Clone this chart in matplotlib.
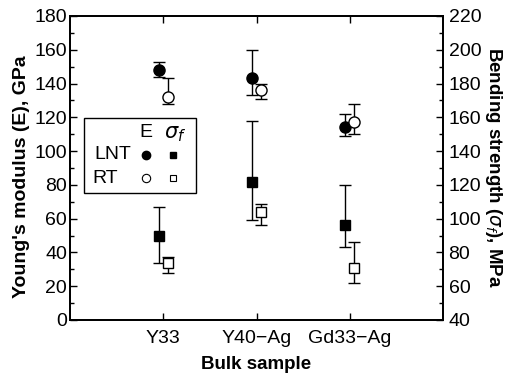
import numpy as np
import matplotlib.pyplot as plt
from matplotlib.patches import Rectangle
from matplotlib.ticker import MultipleLocator

plt.rcParams['font.family'] = ['Liberation Sans', 'DejaVu Sans']

# samples
samples = ['Y33', 'Y40\u2212Ag', 'Gd33\u2212Ag']

# Young's modulus (GPa)
E_lnt = [148, 143, 114]
E_lnt_hi = [152.5, 160, 122]
E_lnt_lo = [144, 133, 109]
E_rt = [132, 136, 117]
E_rt_hi = [143, 139.5, 128]
E_rt_lo = [128, 131, 110]

# bending strength (MPa)
s_lnt = [90, 122, 96]
s_lnt_hi = [107, 158, 120]
s_lnt_lo = [74, 99, 83]
s_rt = [74, 104, 71]
s_rt_hi = [77.5, 108.5, 86]
s_rt_lo = [68, 96, 62]

x = np.arange(1, len(samples) + 1)
dx = 0.05

fig = plt.figure(figsize=(5.07, 3.78), dpi=100)
ax = fig.add_axes([70/507, 1 - 320/378, 373/507, 304/378])
ax2 = ax.twinx()

def err(v, hi, lo):
    v = np.array(v); hi = np.array(hi); lo = np.array(lo)
    return np.vstack([v - lo, hi - v])

kw = dict(ecolor='k', elinewidth=1, capsize=4.2, capthick=1, ls='none')
ax.errorbar(x - dx, E_lnt, yerr=err(E_lnt, E_lnt_hi, E_lnt_lo), fmt='o',
            mfc='k', mec='k', ms=8, **kw)
ax.errorbar(x + dx, E_rt, yerr=err(E_rt, E_rt_hi, E_rt_lo), fmt='o',
            mfc='white', mec='k', mew=1, ms=8, **kw)
ax2.errorbar(x - dx, s_lnt, yerr=err(s_lnt, s_lnt_hi, s_lnt_lo), fmt='s',
             mfc='k', mec='k', ms=7.3, **kw)
ax2.errorbar(x + dx, s_rt, yerr=err(s_rt, s_rt_hi, s_rt_lo), fmt='s',
             mfc='white', mec='k', mew=1, ms=7.3, **kw)

ax.set_xlim(0, 4)
ax.set_ylim(0, 180)
ax2.set_ylim(40, 220)
ax.set_xticks(x)
ax.set_xticklabels(samples, fontsize=14)
ax.yaxis.set_major_locator(MultipleLocator(20))
ax.yaxis.set_minor_locator(MultipleLocator(10))
ax2.yaxis.set_major_locator(MultipleLocator(20))
ax2.yaxis.set_minor_locator(MultipleLocator(10))
ax.tick_params(axis='both', which='major', direction='in', length=5, width=1,
               labelsize=14, top=True)
ax.tick_params(axis='x', which='major', pad=7)
ax.tick_params(axis='y', which='major', pad=2)
ax.tick_params(axis='y', which='minor', direction='in', length=3, width=1)
ax2.tick_params(axis='y', which='major', direction='in', length=5, width=1,
                labelsize=14, pad=4)
ax2.tick_params(axis='y', which='minor', direction='in', length=3, width=1)
for a in (ax, ax2):
    for s in a.spines.values():
        s.set_linewidth(1.3)

ax.set_xlabel('Bulk sample', fontsize=13.5, fontweight='bold', labelpad=7)
ax.set_ylabel("Young's modulus (E), GPa", fontsize=14, fontweight='bold', labelpad=3)
ax.yaxis.label.set_y(0.47)
ax2.set_ylabel('Bending strength ($\\sigma_f$), MPa', fontsize=13.5,
               fontweight='bold', rotation=270, labelpad=16)

# hand-made legend
t = ax.transAxes
ax.add_patch(Rectangle((0.0375, 0.419), 0.3, 0.245, transform=t, fill=False,
                       ec='k', lw=1, zorder=5))
ax.text(0.204, 0.618, 'E', transform=t, ha='center', va='center', fontsize=14)
ax.text(0.282, 0.612, '$\\sigma_f$', transform=t, ha='center', va='center', fontsize=15)
ax.text(0.115, 0.543, 'LNT', transform=t, ha='center', va='center', fontsize=14)
ax.text(0.093, 0.467, 'RT', transform=t, ha='center', va='center', fontsize=14)
ax.plot([0.204], [0.543], 'o', mfc='k', mec='k', ms=6, transform=t)
ax.plot([0.204], [0.467], 'o', mfc='white', mec='k', mew=0.8, ms=6, transform=t)
ax.plot([0.276], [0.543], 's', mfc='k', mec='k', ms=4.8, transform=t)
ax.plot([0.276], [0.467], 's', mfc='white', mec='k', mew=0.8, ms=4.8, transform=t)

fig.savefig('out.png', dpi=100)
